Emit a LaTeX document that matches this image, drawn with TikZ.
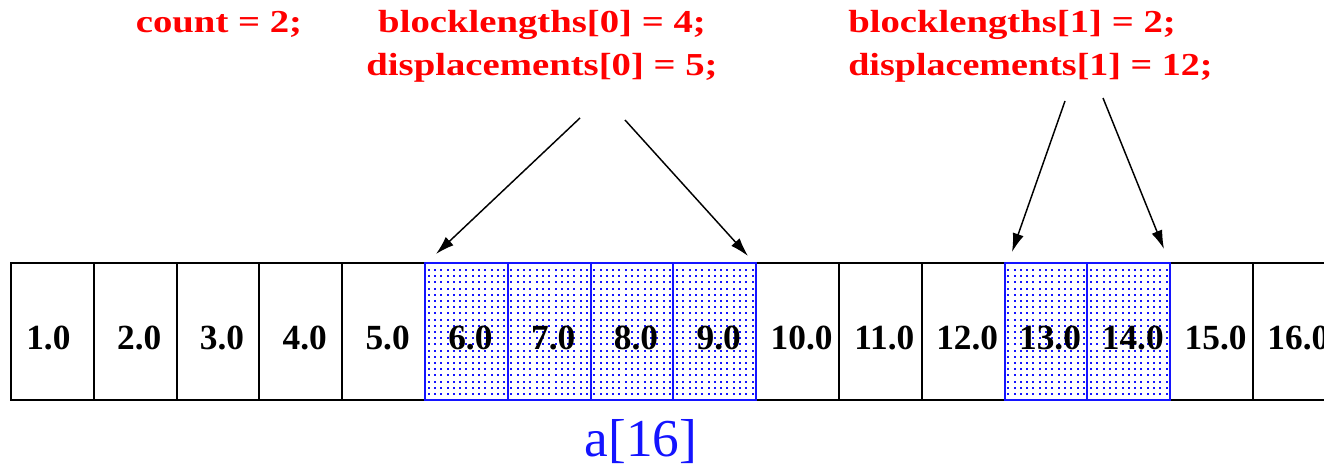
\documentclass[tikz,border=0pt]{standalone}
\usepackage{fontspec}
\usepackage{graphicx}
\setmainfont{Liberation Serif}
\usetikzlibrary{arrows.meta}
\definecolor{lblred}{RGB}{255,0,0}
\definecolor{cellblue}{RGB}{20,20,255}
\newcommand{\wide}[1]{\scalebox{1.21}[1]{#1}}
\tikzset{
  cellbox/.style={draw=black,line width=1.5pt,minimum width=62.1pt,minimum height=102.75pt,inner sep=0pt,outer sep=0pt},
  hlbox/.style={draw=cellblue,line width=1.5pt,minimum width=62.1pt,minimum height=102.75pt,inner sep=0pt,outer sep=0pt},
  dotmark/.style={fill=cellblue},
  numtxt/.style={font=\fontsize{26.5}{30}\selectfont\bfseries,inner sep=0pt,anchor=base},
  redtxt/.style={text=lblred,font=\fontsize{24}{30}\selectfont\bfseries,inner sep=0pt,anchor=base},
  ptr/.style={-{Latex[length=14pt,width=8.5pt]},line width=1.1pt,black}
}
\begin{document}
\begin{tikzpicture}[x=0.75pt,y=-0.75pt]
\useasboundingbox (0,0) rectangle (1324,466);
% cells
\foreach \i in {1,...,16}{
  \pgfmathsetmacro{\cx}{11+82.8*(\i-1)+41.4}
  \node[cellbox] (c\i) at (\cx,332) {};
}
% dotted fill of the highlighted cells
\foreach \i in {6,7,8,9,13,14}{
  \pgfmathsetmacro{\lx}{11+82.8*(\i-1)}
  \node[fill=white,minimum width=62.1pt,minimum height=102.75pt,inner sep=0pt,outer sep=0pt] (w\i) at (\lx+41.4,332) {};
  \foreach \k in {0,...,12}{
    \foreach \m in {0,...,21}{
      \fill[dotmark] (\lx+3.6+6.3*\k-1,270+6.2*\m-1) rectangle ++(2,2);
    }
  }
}
\foreach \i in {6,7,8,9,13,14}{
  \pgfmathsetmacro{\cx}{11+82.8*(\i-1)+41.4}
  \node[hlbox] (h\i) at (\cx,332) {};
}
\foreach \i in {1,...,16}{
  \pgfmathsetmacro{\cx}{11+82.8*(\i-1)+41.4+ifthenelse(\i==1,-4,4)}
  \node[numtxt] (n\i) at (\cx,350) {\i.0};
}
% labels
\node[redtxt] (cnt) at (219,33) {\wide{count = 2;}};
\node[redtxt,anchor=base] (bl0) at (542,33) {\wide{blocklengths[0] = 4;}};
\node[redtxt,anchor=base] (dp0) at (542,76) {\wide{displacements[0] = 5;}};
\node[redtxt,anchor=base west] (bl1) at (848,33) {\wide{blocklengths[1] = 2;}};
\node[redtxt,anchor=base west] (dp1) at (848,76) {\scalebox{1.19}[1]{displacements[1] = 12;}};
\node[text=cellblue,font=\fontsize{40}{46}\selectfont,inner sep=0pt,anchor=base] (arr) at (641,456) {a[16]};
% arrows
\coordinate (s1) at (580,118);
\coordinate (e1) at (436,254);
\coordinate (s2) at (625,120);
\coordinate (e2) at (748,256);
\coordinate (s3) at (1065,101);
\coordinate (e3) at (1012,252);
\coordinate (s4) at (1103,98);
\coordinate (e4) at (1164,249);
\draw[ptr] (s1) -- (e1);
\draw[ptr] (s2) -- (e2);
\draw[ptr] (s3) -- (e3);
\draw[ptr] (s4) -- (e4);
\end{tikzpicture}
\end{document}
